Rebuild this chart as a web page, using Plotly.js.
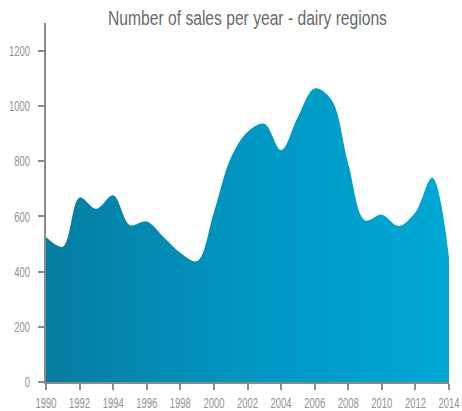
<!DOCTYPE html>
<html>
<head>
<meta charset="utf-8">
<script src="https://cdn.plot.ly/plotly-3.0.1.min.js"></script>
<style>
html,body{margin:0;padding:0;background:#fff}
#chart{width:462px;height:411px}
#chart g.xtick{transform-box:fill-box;transform-origin:center;transform:scaleX(0.63)}
#chart g.ytick{transform-box:fill-box;transform-origin:right center;transform:translateX(-5px) scaleX(0.63)}
#chart g.g-gtitle{transform-box:fill-box;transform-origin:center;transform:scaleX(0.745)}
</style>
</head>
<body>
<div id="chart"></div>
<script>
const years = [1990,1991,1992,1993,1994,1995,1996,1997,1998,1999,2000,2001,2002,2003,2004,2005,2006,2007,2008,2009,2010,2011,2012,2013,2014];
const sales = [525,490,668,627,676,568,581,525,468,438,615,810,905,935,840,960,1063,1022,790,585,606,565,615,740,450];
const xTicks = [1990,1992,1994,1996,1998,2000,2002,2004,2006,2008,2010,2012,2014];
const yTicks = [0,200,400,600,800,1000,1200];
const titleText = 'Number of sales per year - dairy regions';

const FONT = '"Liberation Sans", Arial, sans-serif';

const trace = {
  x: years, y: sales, type: 'scatter', mode: 'lines',
  line: {shape: 'spline', smoothing: 1, width: 0, color: '#00a7d3'},
  fill: 'tozeroy',
  fillgradient: {type: 'horizontal', colorscale: [[0, '#067ca1'], [0.5, '#0096c2'], [1, '#00a8d4']]},
  hoverinfo: 'skip'
};

const axisCommon = {
  showgrid: false, zeroline: false, showline: true, linecolor: '#8a8a8a', linewidth: 2,
  ticks: 'outside', ticklen: 6, tickwidth: 2, tickcolor: '#8a8a8a',
  tickfont: {family: FONT, size: 15, color: '#929292'},
  ticklabeloverflow: 'allow', tickangle: 0
};

const layout = {
  width: 462, height: 411,
  margin: {l: 46, r: 13, t: 23, b: 29},
  paper_bgcolor: '#fff', plot_bgcolor: '#fff',
  showlegend: false,
  title: {text: titleText, xref: 'paper', x: 0.5, xanchor: 'center', yref: 'container', y: 0.957, yanchor: 'middle',
          font: {family: FONT, size: 21, color: '#6a6a6a'}},
  xaxis: Object.assign({}, axisCommon, {range: [1990, 2014], tickvals: xTicks, ticktext: xTicks.map(String), automargin: false}),
  yaxis: Object.assign({}, axisCommon, {range: [0, 1300], tickvals: yTicks, ticktext: yTicks.map(String), automargin: false})
};

Plotly.newPlot('chart', [trace], layout, {displayModeBar: false, staticPlot: true});
</script>
</body>
</html>
